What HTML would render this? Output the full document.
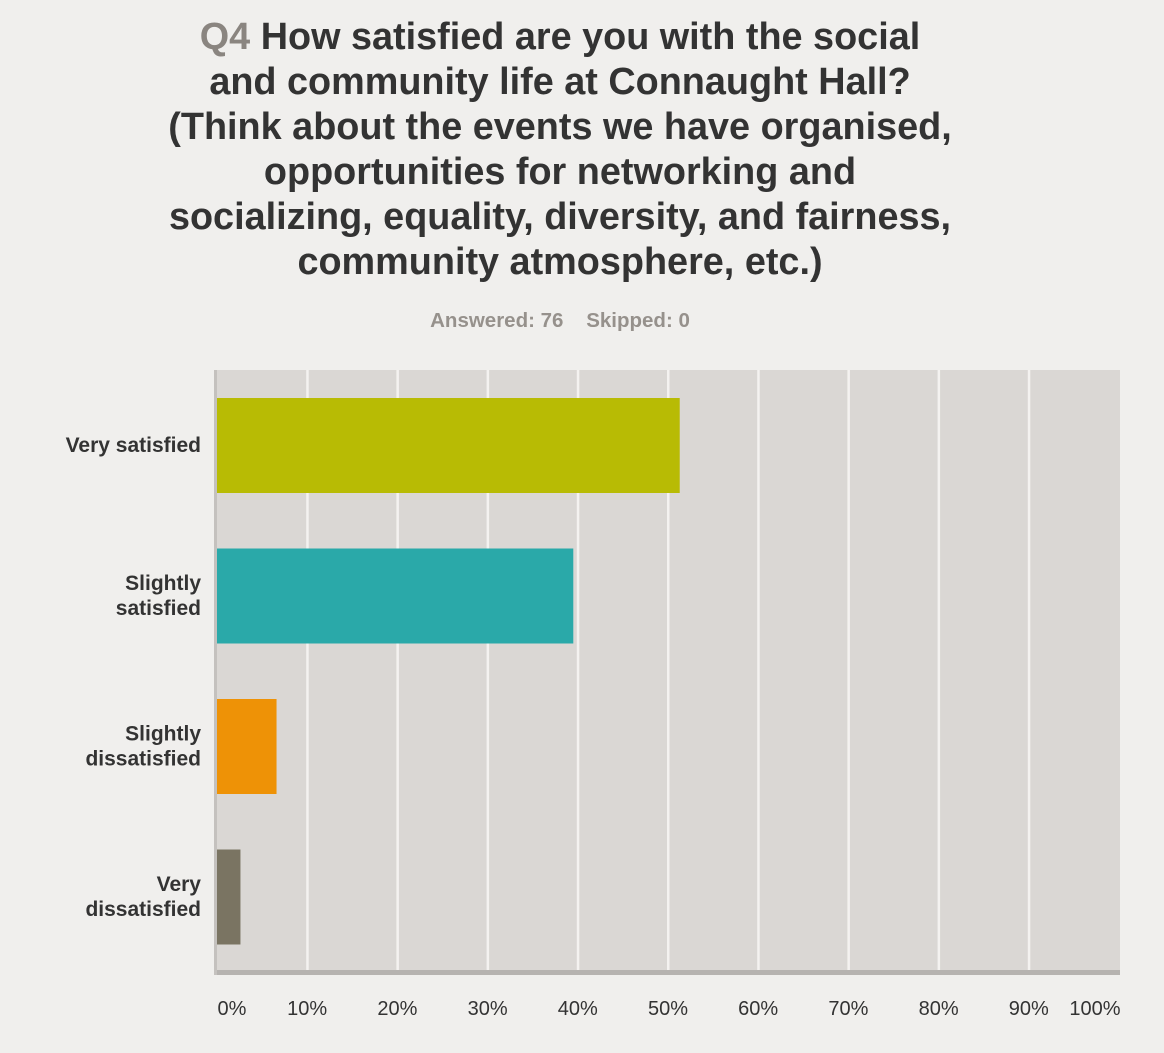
<!DOCTYPE html>
<html><head><meta charset="utf-8"><style>
body{margin:0;width:1164px;height:1048px;background:#f0efed;font-family:"Liberation Sans",Arial,sans-serif;overflow:hidden}
</style></head><body>
<svg width="1164" height="1048" xmlns="http://www.w3.org/2000/svg">
<rect width="1164" height="1048" fill="#f0efed"/>
<g font-weight="bold" font-size="37.8" fill="#333" text-anchor="middle">
<text x="560" y="49"><tspan fill="#8a8580">Q4</tspan> How satisfied are you with the social</text>
<text x="560" y="94">and community life at Connaught Hall?</text>
<text x="560" y="139">(Think about the events we have organised,</text>
<text x="560" y="184">opportunities for networking and</text>
<text x="560" y="229">socializing, equality, diversity, and fairness,</text>
<text x="560" y="274">community atmosphere, etc.)</text>
</g>
<text x="560" y="327" text-anchor="middle" font-size="20.5" font-weight="bold" fill="#96918c">Answered: 76 &#160;&#160;&#160;Skipped: 0</text>
<rect x="217" y="370" width="903" height="602" fill="#dad7d4"/>
<g id="grid"></g>
<g id="bars"></g>
<rect x="217" y="970" width="903" height="5" fill="#b6b3b0"/>
<rect x="214" y="370" width="3" height="605" fill="#c4c1be"/>
<g id="xticks" font-size="20" fill="#333" text-anchor="middle"></g>
<g id="ylabels" font-size="21" font-weight="bold" fill="#333" text-anchor="end"></g>
</svg>
<script>
const categories=[["Very satisfied"],["Slightly","satisfied"],["Slightly","dissatisfied"],["Very","dissatisfied"]];
const values=[51.3,39.5,6.6,2.6];
const colors=["#b8bb04","#2aa9a9","#ee9206","#7a7462"];
const tickLabels=["0%","10%","20%","30%","40%","50%","60%","70%","80%","90%","100%"];
const ticks=[0,10,20,30,40,50,60,70,80,90,100];
const NS="http://www.w3.org/2000/svg";
const x=v=>217+v*9.02;
const band=i=>370+i*150.5;
function mk(t,a,p){const e=document.createElementNS(NS,t);for(const k in a)e.setAttribute(k,a[k]);p.appendChild(e);return e;}
const grid=document.getElementById('grid'),bars=document.getElementById('bars'),xt=document.getElementById('xticks'),yl=document.getElementById('ylabels');
ticks.forEach((t,i)=>{
 if(t>0&&t<100){const g=mk('rect',{x:x(t)-1,y:370,width:2.5,height:600,fill:'#f4f2f0'},grid);
 
 }
 const tx=mk('text',{x:x(t)+(t==100?-24:(t==0?15:0)),y:1015},xt);tx.textContent=tickLabels[i];
 
 
});
values.forEach((v,i)=>{
 const b=mk('rect',{x:217,y:band(i)+28,width:x(v)-217,height:95,fill:colors[i]},bars);
 
 
 const lines=categories[i],cy=band(i)+75;
 const t=mk('text',{x:201,y:0},yl);
 
 
 lines.forEach((l,j)=>{const s=mk('tspan',{x:201,y:cy+7+(j-(lines.length-1)/2)*25},t);s.textContent=l;});
});
</script>
</body></html>
